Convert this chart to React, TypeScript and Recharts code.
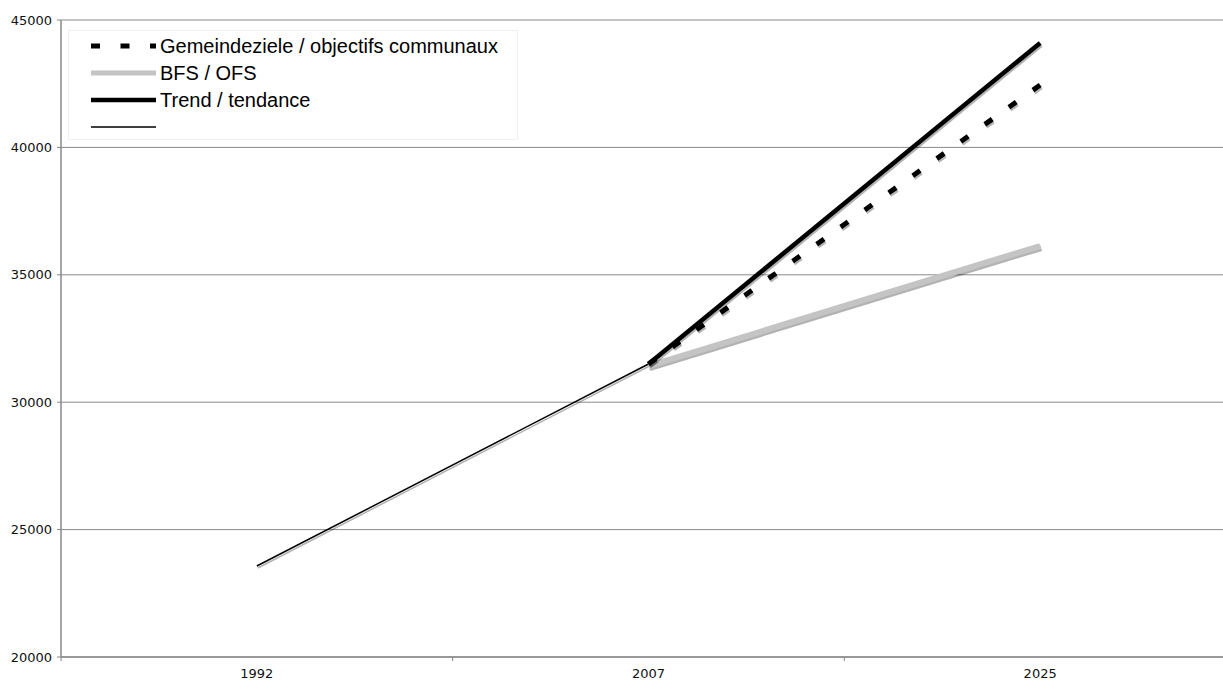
import React from "react";
import { LineChart, Line, XAxis, YAxis, CartesianGrid } from "recharts";

const years = ["1992", "2007", "2025"];
const historic = [23570, 31500, null];
const gemeindeziele = [null, 31500, 42450];
const bfs = [null, 31420, 36130];
const trend = [null, 31500, 44100];
const yTicks = [20000, 25000, 30000, 35000, 40000, 45000];

const data = years.map((y, i) => ({
  year: y,
  historic: historic[i],
  gemeindeziele: gemeindeziele[i],
  bfs: bfs[i],
  trend: trend[i],
}));

const legendItems = [
  { key: "gemeindeziele", label: "Gemeindeziele / objectifs communaux", stroke: "#000", width: 5, dash: "9 20.5" },
  { key: "bfs", label: "BFS / OFS", stroke: "#c4c4c4", width: 5, dash: undefined },
  { key: "trend", label: "Trend / tendance", stroke: "#000", width: 4.5, dash: undefined },
  { key: "historic", label: "", stroke: "#000", width: 1.5, dash: undefined },
];

const XTick = (props: any) => {
  const { x, y, payload, index } = props;
  const off = payload.offset || 0;
  return (
    <g>
      <line x1={x - off} x2={x - off} y1={y - 8} y2={y - 4} stroke="#888" strokeWidth={1} />
      {index === years.length - 1 && (
        <line x1={x + off} x2={x + off} y1={y - 8} y2={y - 4} stroke="#888" strokeWidth={1} />
      )}
      <text x={x} y={y + 4} dy="0.71em" textAnchor="middle" fontFamily="DejaVu Sans" fontSize={13} fill="#111">
        {payload.value}
      </text>
    </g>
  );
};

const LegendBox = () => (
  <div
    style={{
      position: "absolute",
      left: 68,
      top: 30,
      width: 450,
      height: 110,
      boxSizing: "border-box",
      border: "1px solid #f0f0f0",
      background: "#fff",
      paddingTop: 1.5,
    }}
  >
    {legendItems.map((it) => (
      <div key={it.key} style={{ height: 27, display: "flex", alignItems: "center" }}>
        <svg width={88} height={10} style={{ flex: "none" }}>
          <line
            x1={22}
            x2={87}
            y1={5}
            y2={5}
            stroke={it.stroke}
            strokeWidth={it.width}
            strokeDasharray={it.dash}
          />
        </svg>
        <span
          style={{
            fontFamily: "'Liberation Sans Narrow', 'Arial Narrow', 'Liberation Sans', sans-serif",
            fontSize: 20,
            color: "#000",
            marginLeft: 3,
            whiteSpace: "nowrap",
          }}
        >
          {it.label}
        </span>
      </div>
    ))}
  </div>
);

export default function App() {
  return (
    <div style={{ position: "absolute", left: 0, top: 0, width: 1223, height: 682, overflow: "hidden", background: "#fff" }}>
      <style>{`.shadowline { filter: drop-shadow(1.5px 2px 0.6px rgba(0,0,0,0.3)); }`}</style>
      <LineChart width={1236} height={682} data={data} margin={{ top: 20, right: 0, bottom: 0, left: 0 }}>
        <CartesianGrid vertical={false} stroke="#8a8a8a" strokeWidth={1} />
        <XAxis
          dataKey="year"
          scale="band"
          height={25}
          tickLine={false}
          axisLine={{ stroke: "#888", strokeWidth: 1.5 }}
          tick={<XTick />}
          interval={0}
        />
        <YAxis
          width={61}
          domain={[20000, 45000]}
          ticks={yTicks}
          tickSize={4}
          tickMargin={5}
          axisLine={{ stroke: "#888", strokeWidth: 1.5 }}
          tickLine={{ stroke: "#888" }}
          tick={{ fontFamily: "DejaVu Sans", fontSize: 13, fill: "#111" }}
          allowDataOverflow
        />
        <Line
          className="shadowline"
          dataKey="historic"
          name=""
          stroke="#000"
          strokeWidth={1.5}
          dot={false}
          isAnimationActive={false}
        />
        <Line
          className="shadowline"
          dataKey="bfs"
          name="BFS / OFS"
          stroke="#c4c4c4"
          strokeWidth={6}
          dot={false}
          isAnimationActive={false}
        />
        <Line
          className="shadowline"
          dataKey="gemeindeziele"
          name="Gemeindeziele / objectifs communaux"
          stroke="#000"
          strokeWidth={5}
          strokeDasharray="9 20.5"
          dot={false}
          isAnimationActive={false}
        />
        <Line
          className="shadowline"
          dataKey="trend"
          name="Trend / tendance"
          stroke="#000"
          strokeWidth={4.5}
          dot={false}
          isAnimationActive={false}
        />
      </LineChart>
      <LegendBox />
    </div>
  );
}
